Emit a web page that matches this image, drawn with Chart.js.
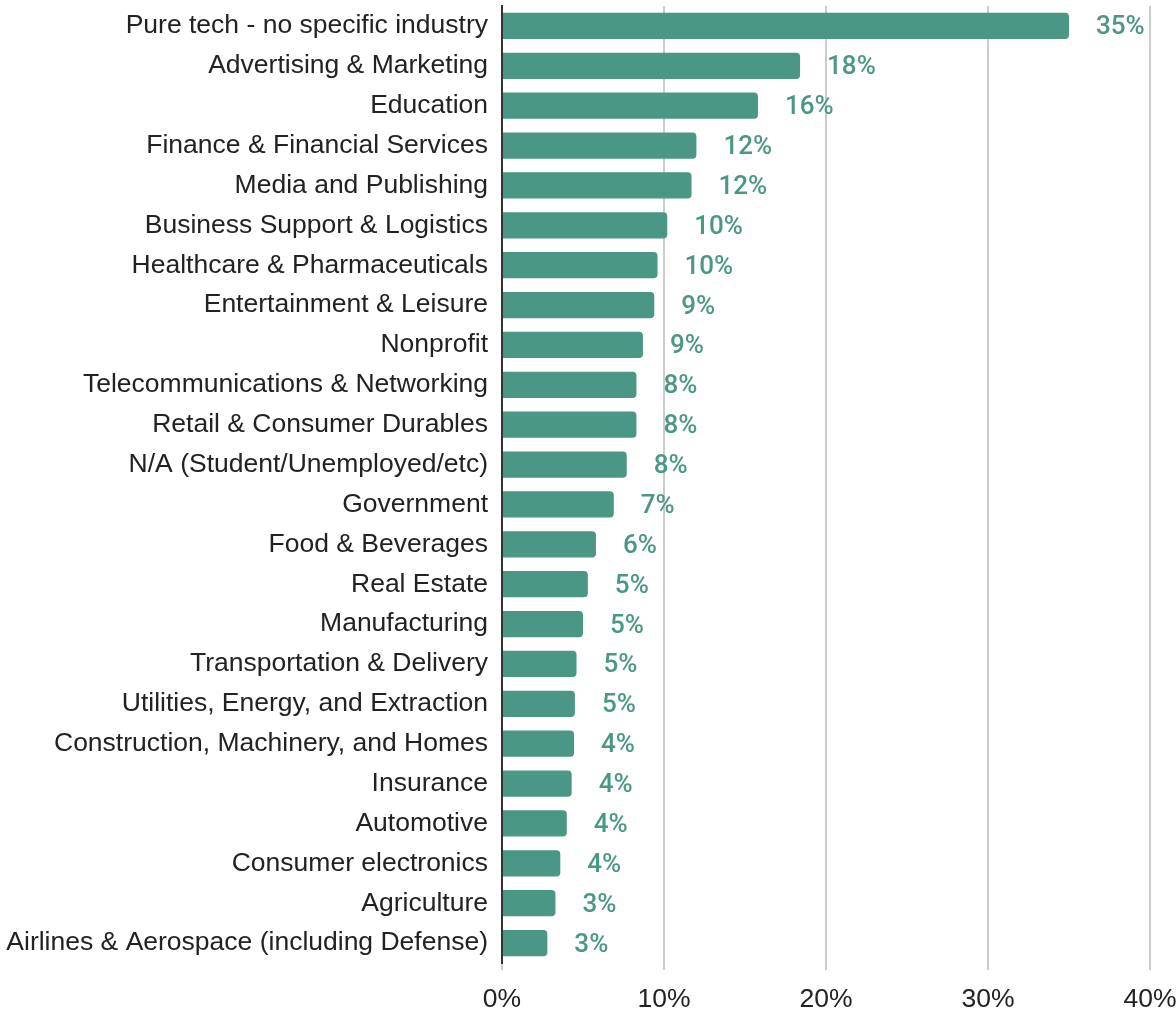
<!DOCTYPE html>
<html>
<head>
<meta charset="utf-8">
<script src="https://cdn.jsdelivr.net/npm/chart.js@4.4.1/dist/chart.umd.min.js"></script>
<style>
  html, body { margin: 0; padding: 0; background: #fff; }
  #wrap { width: 1176px; height: 1010px; position: relative; }
</style>
</head>
<body>
<div id="wrap"><canvas id="bar-chart"></canvas></div>
<script>
const categories = [
  'Pure tech - no specific industry',
  'Advertising & Marketing',
  'Education',
  'Finance & Financial Services',
  'Media and Publishing',
  'Business Support & Logistics',
  'Healthcare & Pharmaceuticals',
  'Entertainment & Leisure',
  'Nonprofit',
  'Telecommunications & Networking',
  'Retail & Consumer Durables',
  'N/A (Student/Unemployed/etc)',
  'Government',
  'Food & Beverages',
  'Real Estate',
  'Manufacturing',
  'Transportation & Delivery',
  'Utilities, Energy, and Extraction',
  'Construction, Machinery, and Homes',
  'Insurance',
  'Automotive',
  'Consumer electronics',
  'Agriculture',
  'Airlines & Aerospace (including Defense)'
];
const shares = [35.0, 18.4, 15.8, 12.0, 11.7, 10.2, 9.6, 9.4, 8.7, 8.3, 8.3, 7.7,
  6.9, 5.8, 5.3, 5.0, 4.6, 4.5, 4.45, 4.3, 4.0, 3.6, 3.3, 2.8];
const shareLabels = ['35%', '18%', '16%', '12%', '12%', '10%', '10%', '9%', '9%', '8%', '8%', '8%',
  '7%', '6%', '5%', '5%', '5%', '5%', '4%', '4%', '4%', '4%', '3%', '3%'];
const xTicks = [0, 10, 20, 30, 40];

const teal = '#4a9785';
const labelFont = "'Liberation Sans', Arial, sans-serif";

// value labels to the right of each bar
const valueLabels = {
  id: 'valueLabels',
  afterDatasetsDraw(chart) {
    const ctx = chart.ctx;
    const meta = chart.getDatasetMeta(0);
    ctx.save();
    ctx.font = "500 26px Roboto";
    ctx.fillStyle = teal;
    ctx.textAlign = 'left';
    ctx.textBaseline = 'middle';
    meta.data.forEach((bar, i) => {
      ctx.fillText(shareLabels[i], bar.x + 27, bar.y + 2);
    });
    ctx.restore();
  }
};

const config = {
  type: 'bar',
  data: {
    labels: categories,
    datasets: [{
      data: shares,
      backgroundColor: teal,
      borderRadius: { topRight: 4, bottomRight: 4 },
      borderSkipped: 'start',
      categoryPercentage: 0.8,
      barPercentage: 0.82
    }]
  },
  options: {
    indexAxis: 'y',
    responsive: false,
    animation: false,
    layout: { padding: { top: 6, right: 26, left: 0, bottom: 0 } },
    plugins: {
      legend: { display: false },
      tooltip: { enabled: false }
    },
    scales: {
      x: {
        min: 0,
        max: 40,
        afterBuildTicks(scale) {
          scale.ticks = xTicks.map(v => ({ value: v }));
        },
        afterFit(scale) {
          scale.height = 47;
          scale.paddingLeft = 0;
          scale.paddingRight = 0;
        },
        ticks: {
          font: { family: labelFont, size: 26.5 },
          color: '#222',
          padding: 14,
          maxRotation: 0,
          callback: v => v + '%'
        },
        grid: {
          color: '#cccccc',
          lineWidth: 2,
          tickLength: 7,
          drawTicks: true
        },
        border: { display: false }
      },
      y: {
        afterFit(scale) {
          scale.width = 502;
          scale.paddingTop = 0;
          scale.paddingBottom = 0;
        },
        ticks: {
          font: { family: labelFont, size: 26.5 },
          color: '#222',
          padding: 14,
          autoSkip: false
        },
        grid: { display: false, drawTicks: false },
        border: { display: true, color: '#333', width: 2 }
      }
    }
  },
  plugins: [valueLabels]
};

const canvas = document.getElementById('bar-chart');
canvas.width = 1176;
canvas.height = 1010;
window.myBar = new Chart(canvas.getContext('2d'), config);
</script>
</body>
</html>
